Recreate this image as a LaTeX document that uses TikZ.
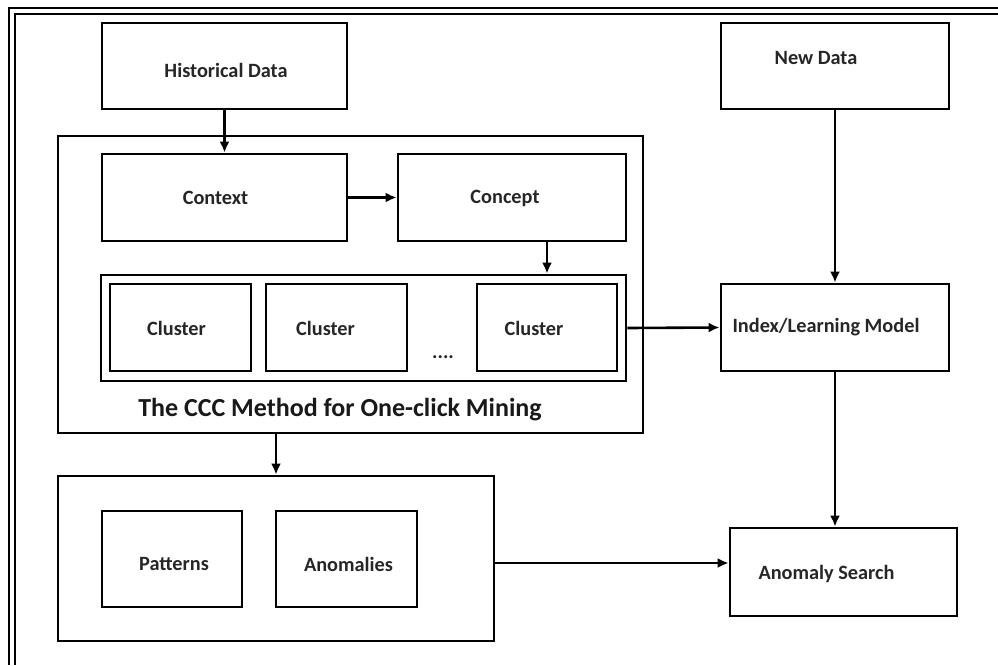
\documentclass[tikz,border=0pt]{standalone}
\usepackage{fontspec}
\setmainfont{Carlito}
\usetikzlibrary{arrows.meta,calc}
\begin{document}
\begin{tikzpicture}[x=1pt,y=-1pt,
  box/.style={draw=black,line width=2.8pt,fill=white,inner sep=0pt},
  lbl/.style={font=\bfseries\fontsize{20.3}{24}\selectfont,text=black!85,inner sep=0pt},
  arr/.style={line width=2.6pt,-{Latex[length=11pt,width=10pt]}},
  frameline/.style={line width=1.6pt}]
\useasboundingbox (0,0) rectangle (998,665);
% outer double frame (top and left only visible)
\draw[frameline] (998,8) -- (9,8) -- (9,665);
\draw[frameline] (998,14) -- (15,14) -- (15,665);
% boxes
\node[box,minimum width=245pt,minimum height=86pt] (hist) at (224.5,66) {};
\node[box,minimum width=228pt,minimum height=86pt] (newd) at (835,66) {};
\node[box,minimum width=585pt,minimum height=297pt] (ccc) at (350.5,284.5) {};
\node[box,minimum width=245pt,minimum height=87pt] (ctx) at (224.5,197.5) {};
\node[box,minimum width=228pt,minimum height=87pt] (cpt) at (512,197.5) {};
\node[box,minimum width=525pt,minimum height=106pt] (cont) at (363.5,328) {};
\node[box,minimum width=141pt,minimum height=87pt] (cl1) at (180.5,327.5) {};
\node[box,minimum width=141pt,minimum height=87pt] (cl2) at (336.5,327.5) {};
\node[box,minimum width=140pt,minimum height=87pt] (cl3) at (547,327.5) {};
\node[box,minimum width=228pt,minimum height=87pt] (idx) at (835,327.5) {};
\node[box,minimum width=436pt,minimum height=165pt] (bot) at (276,558.5) {};
\node[box,minimum width=140pt,minimum height=96pt] (pat) at (172,559) {};
\node[box,minimum width=141pt,minimum height=96pt] (ano) at (346.5,559) {};
\node[box,minimum width=227pt,minimum height=88pt] (srch) at (843.5,572) {};
% texts
\node[lbl] (histt) at ($(hist)+(1.5,4)$) {Historical Data};
\node[lbl] (newdt) at ($(newd)+(-19,-8)$) {New Data};
\node[lbl] (ctxt) at ($(ctx)+(-9,0.5)$) {Context};
\node[lbl] (cptt) at ($(cpt)+(-7,0.5)$) {Concept};
\node[lbl] (cl1t) at ($(cl1)+(-4,0.5)$) {Cluster};
\node[lbl] (cl2t) at ($(cl2)+(-11,0.5)$) {Cluster};
\node[lbl] (cl3t) at ($(cl3)+(-13,0.5)$) {Cluster};
\node[lbl] (dots) at (443,357) {....};
\node[lbl,font=\bfseries\fontsize{26}{30}\selectfont,text=black!90] (title) at (340,410) {The CCC Method for One-click Mining};
\node[lbl] (idxt) at ($(idx)+(-9,0)$) {Index/Learning Model};
\node[lbl] (patt) at ($(pat)+(2,5)$) {Patterns};
\node[lbl] (anot) at ($(ano)+(2,5)$) {Anomalies};
\node[lbl] (srcht) at ($(srch)+(-17,2)$) {Anomaly Search};
% connectors
\draw[arr] (hist.south) -- (ctx.north);
\draw[arr] (ctx.east) -- (cpt.west);
\draw[arr] (cpt.south -| cl3) -- (cont.north -| cl3);
\draw[arr] (cont.east) -- (idx.west);
\draw[arr] (newd.south) -- (idx.north);
\draw[arr] (ccc.south -| bot) -- (bot.north);
\draw[arr] (idx.south) -- (idx.south |- srch.north);
\draw[arr] ([yshift=-4.5pt]bot.east) -- ([yshift=-4.5pt]bot.east -| srch.west);
\end{tikzpicture}
\end{document}
